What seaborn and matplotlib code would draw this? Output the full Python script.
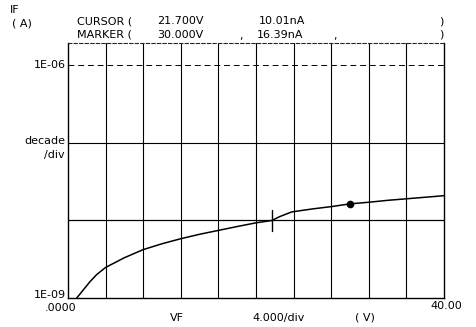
import numpy as np
import pandas as pd
import matplotlib
matplotlib.use("Agg")
import matplotlib.pyplot as plt
import seaborn as sns

vf = [0.93, 1.6, 2.33, 3.04, 4, 6, 8, 10, 12, 14, 16, 18, 20, 21.7,
      22.5, 23.8, 26, 28, 30, 32, 34, 36, 38, 40]
if_na = [1.0, 1.26, 1.62, 2.0, 2.48, 3.31, 4.21, 5.01, 5.82, 6.64, 7.45, 8.36,
         9.33, 10.01, 11.2, 12.9, 14.1, 15.1, 16.39, 17.2, 18.2, 19.05, 19.95, 20.9]

cursor_v, cursor_na = 21.7, 10.01
marker_v, marker_na = 30.0, 16.39

datos = pd.DataFrame({"VF": vf, "IF": np.array(if_na) * 1e-9})

W, H = 477, 327
sns.set_style("white")
plt.rcParams['font.family'] = ['DejaVu Sans']
fig = plt.figure(figsize=(W / 100, H / 100), dpi=100)

left, right, top, bottom = 68, 444, 42.7, 298
ax = fig.add_axes([left / W, 1 - bottom / H, (right - left) / W, (bottom - top) / H])

sns.lineplot(data=datos, x="VF", y="IF", color="black", linewidth=1.1, ax=ax, sort=False)
ax.set_yscale("log")
ax.set_xlim(0, 40)
ax.set_ylim(1e-9, 10 ** -5.706)

# rejilla
for v in range(4, 40, 4):
    ax.axvline(v, color="black", linewidth=0.8, zorder=0)
ax.axhline(1e-8, color="black", linewidth=0.9, zorder=0)
ax.axhline(1e-7, color="black", linewidth=0.8, zorder=0)
ax.axhline(1e-6, color="black", linewidth=0.7, linestyle=(0, (6, 4)), zorder=0)

# cursor y marcador
ax.plot([cursor_v, cursor_v], [cursor_na * 1e-9 / 1.35, cursor_na * 1e-9 * 1.35],
        color="black", linewidth=1.0)
ax.plot(marker_v, marker_na * 1e-9, marker="o", markersize=4.5, color="black")

ax.set_xticks([])
ax.set_yticks([])
ax.minorticks_off()
ax.set_xlabel("")
ax.set_ylabel("")
for s in ["left", "bottom", "right"]:
    ax.spines[s].set_color("black")
    ax.spines[s].set_linewidth(1.0)
ax.spines["top"].set_linestyle((0, (3, 2)))
ax.spines["top"].set_linewidth(0.8)


def txt(x, y, s, ha="left", size=8):
    fig.text(x / W, 1 - y / H, s, ha=ha, va="center", fontsize=size, color="black")


txt(10, 10, "IF")
txt(12, 23.5, "( A)")
txt(77, 21, "CURSOR (")
txt(157, 21, "21.700V")
txt(259, 21, "10.01nA")
txt(439, 21, ")")
txt(77, 34.5, "MARKER (")
txt(157, 34.5, "30.000V")
txt(239, 35.5, ",")
txt(257, 34.5, "16.39nA")
txt(333, 35.5, ",")
txt(439, 34.5, ")")
txt(66, 65, "1E-06", ha="right")
txt(65, 141, "decade", ha="right")
txt(65, 155, "/div", ha="right")
txt(66, 295, "1E-09", ha="right")
txt(45, 308, ".0000")
txt(170, 318, "VF")
txt(252, 318, "4.000/div")
txt(355, 318, "( V)")
txt(430, 306, "40.00")

plt.savefig("out.png", dpi=100)
